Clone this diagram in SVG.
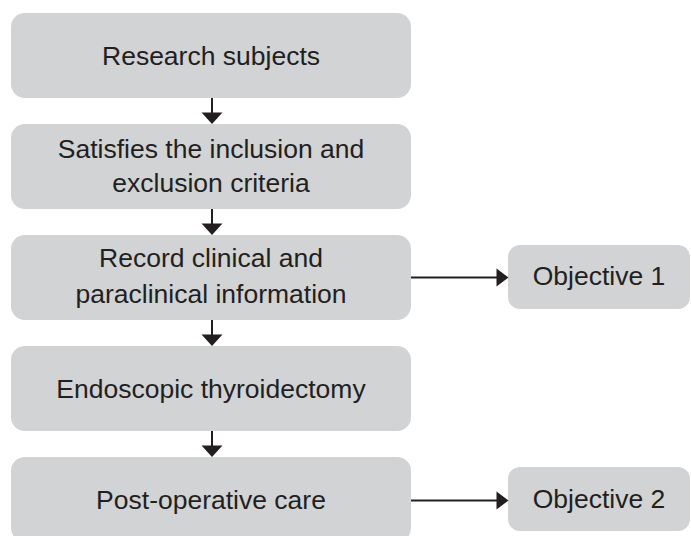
<svg xmlns="http://www.w3.org/2000/svg" width="691" height="536" viewBox="0 0 691 536">
  <defs>
    <style>
      .box { fill: #d1d3d4; }
      .lbl { font-family: "Liberation Sans", Arial, sans-serif; font-size: 26.5px; fill: #231f20; text-anchor: middle; }
      .conn { stroke: #231f20; stroke-width: 2; fill: none; }
      .head { fill: #231f20; }
    </style>
  </defs>
  <rect width="691" height="536" fill="#ffffff"/>

  <g id="n1">
    <rect class="box" x="11" y="13" width="400" height="85" rx="14"/>
    <text class="lbl" x="211" y="65">Research subjects</text>
  </g>
  <g id="n2">
    <rect class="box" x="11" y="124" width="400" height="85" rx="14"/>
    <text class="lbl" x="211" y="158">Satisfies the inclusion and</text>
    <text class="lbl" x="211" y="192">exclusion criteria</text>
  </g>
  <g id="n3">
    <rect class="box" x="11" y="235" width="400" height="85" rx="14"/>
    <text class="lbl" x="211" y="267">Record clinical and</text>
    <text class="lbl" x="211" y="303">paraclinical information</text>
  </g>
  <g id="n4">
    <rect class="box" x="11" y="346" width="400" height="85" rx="14"/>
    <text class="lbl" x="211" y="398">Endoscopic thyroidectomy</text>
  </g>
  <g id="n5">
    <rect class="box" x="11" y="457" width="400" height="85" rx="14"/>
    <text class="lbl" x="211" y="509">Post-operative care</text>
  </g>
  <g id="obj1">
    <rect class="box" x="508" y="245" width="182" height="64" rx="12"/>
    <text class="lbl" x="599" y="285">Objective 1</text>
  </g>
  <g id="obj2">
    <rect class="box" x="508" y="467" width="182" height="64" rx="12"/>
    <text class="lbl" x="599" y="508">Objective 2</text>
  </g>

  <g id="connectors">
    <line class="conn" x1="212" y1="98" x2="212" y2="114"/>
    <path class="head" d="M201.5,112.5 L222.5,112.5 L212,124 Z"/>
    <line class="conn" x1="212" y1="209" x2="212" y2="225"/>
    <path class="head" d="M201.5,223.5 L222.5,223.5 L212,235 Z"/>
    <line class="conn" x1="212" y1="320" x2="212" y2="336"/>
    <path class="head" d="M201.5,334.5 L222.5,334.5 L212,346 Z"/>
    <line class="conn" x1="212" y1="431" x2="212" y2="447"/>
    <path class="head" d="M201.5,445.5 L222.5,445.5 L212,457 Z"/>
    <line class="conn" x1="411" y1="277.5" x2="498" y2="277.5"/>
    <path class="head" d="M496.5,268.5 L508.5,277.5 L496.5,286.5 Z"/>
    <line class="conn" x1="411" y1="500.5" x2="498" y2="500.5"/>
    <path class="head" d="M496.5,491.5 L508.5,500.5 L496.5,509.5 Z"/>
  </g>
</svg>
